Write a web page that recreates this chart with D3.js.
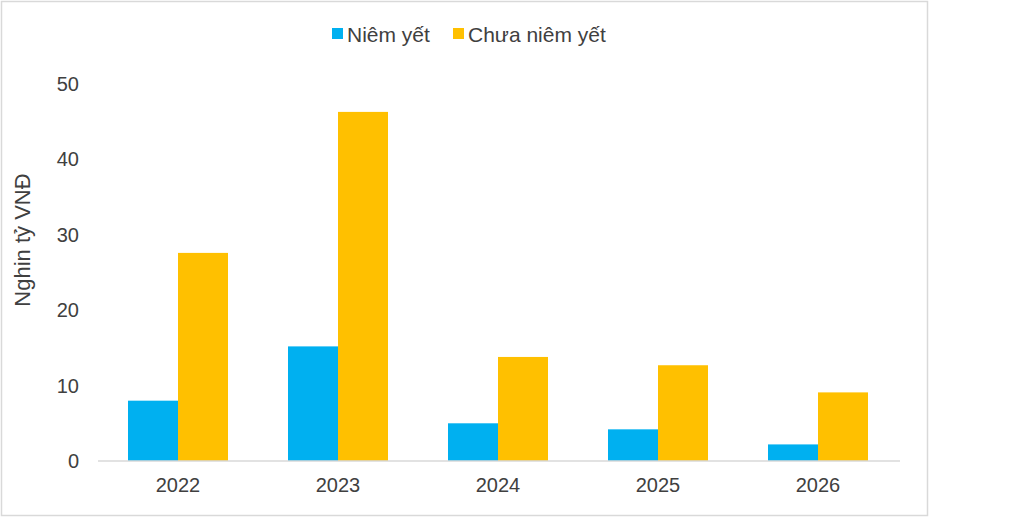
<!DOCTYPE html>
<html><head><meta charset="utf-8">
<script src="https://cdn.jsdelivr.net/npm/d3@7"></script>
<style>html,body{margin:0;padding:0;background:#fff;}svg{display:block;font-family:"Liberation Sans",Arial,sans-serif;}</style>
</head><body>
<svg id="c" width="1035" height="518"></svg>
<script>
const categories = ["2022","2023","2024","2025","2026"];
const seriesNames = ["Niêm yết","Chưa niêm yết"];
const listed = [8.0, 15.2, 5.0, 4.2, 2.2];
const unlisted = [27.6, 46.3, 13.8, 12.7, 9.1];
const yTicks = [0,10,20,30,40,50];
const yLabel = "Nghin tỷ VNĐ";
const colors = ["#00B0F0","#FFC000"];

const svg = d3.select("#c");
svg.append("rect").attr("x",1.5).attr("y",1.5).attr("width",926).attr("height",514)
  .attr("fill","#fff").attr("stroke","#d9d9d9").attr("stroke-width",1.5);

const x0 = d3.scaleBand().domain(categories).range([98,898]).paddingInner(0.375).paddingOuter(0.1875);
const x1 = d3.scaleBand().domain([0,1]).range([0,x0.bandwidth()]);
const y = d3.scaleLinear().domain([0,50]).range([461,84]);

const data = [listed, unlisted];
data.forEach((vals,si)=>{
  svg.append("g").selectAll("rect").data(vals).join("rect")
    .attr("x",(d,i)=>x0(categories[i])+x1(si))
    .attr("y",d=>y(d))
    .attr("width",x1.bandwidth())
    .attr("height",d=>y(0)-y(d))
    .attr("fill",colors[si]);
});

// x axis
const xa = svg.append("g").attr("transform","translate(0,461)")
  .call(d3.axisBottom(x0).tickSize(0).tickPadding(17));
xa.select(".domain").attr("stroke","#d9d9d9").attr("stroke-width",1.5).attr("d","M98,0H900");
xa.selectAll("text").attr("font-size",20).attr("fill","#404040").attr("font-family","Liberation Sans, Arial, sans-serif");

// y axis
const ya = svg.append("g").attr("transform","translate(79,0)")
  .call(d3.axisLeft(y).tickValues(yTicks).tickSize(0).tickPadding(0));
ya.select(".domain").remove();
ya.selectAll("text").attr("font-size",20).attr("fill","#404040").attr("font-family","Liberation Sans, Arial, sans-serif");

svg.append("text").attr("transform","translate(30,240) rotate(-90)")
  .attr("text-anchor","middle").attr("font-size",22).attr("fill","#404040").text(yLabel);

// legend
const legX = [332,453];
seriesNames.forEach((n,i)=>{
  svg.append("rect").attr("x",legX[i]).attr("y",28).attr("width",11).attr("height",11).attr("fill",colors[i]);
  svg.append("text").attr("x",legX[i]+15).attr("y",42).attr("font-size",21).attr("fill","#404040").text(n);
});
</script>
</body></html>
